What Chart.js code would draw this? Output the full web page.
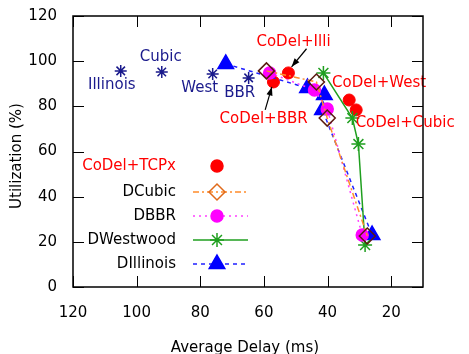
<!DOCTYPE html>
<html>
<head>
<meta charset="utf-8">
<script src="https://cdn.jsdelivr.net/npm/chart.js@4.4.1/dist/chart.umd.min.js"></script>
<style>
html, body { margin: 0; padding: 0; background: #fff; }
</style>
</head>
<body>
<canvas id="delayUtil" width="469" height="354"></canvas>
<script>
// axis ticks
const xTicks = [120, 100, 80, 60, 40, 20];
const yTicks = [0, 20, 40, 60, 80, 100, 120];

// plain TCP variants (no AQM)
const tcpNames = ['Illinois', 'Cubic', 'West', 'BBR'];
const tcpDelay = [105.0, 92.1, 76.1, 64.8];
const tcpUtil = [95.7, 95.2, 94.3, 92.6];

// CoDel + TCP variants
const codelNames = ['CoDel+Illi', 'CoDel+BBR', 'CoDel+West', 'CoDel+Cubic'];
const codelDelay = [52.3, 57.0, 33.2, 31.0];
const codelUtil = [94.8, 90.8, 82.8, 78.4];

// D* series
const dcubicDelay = [59.2, 43.5, 40.1, 27.5];
const dcubicUtil = [95.7, 90.8, 74.8, 22.6];
const dbbrDelay = [58.2, 44.1, 40.1, 29.1];
const dbbrUtil = [94.8, 87.2, 78.8, 23.0];
const dwestDelay = [41.3, 32.2, 30.3, 28.2];
const dwestUtil = [94.8, 74.8, 63.3, 18.6];
const dillDelay = [72.0, 46.3, 41.0, 41.6, 26.0];
const dillUtil = [98.8, 88.1, 85.0, 78.4, 23.0];

// where the text labels sit (data coords)
const tcpLabelPos = [[107.8, 89.5], [92.4, 101.9], [80.2, 88.1], [67.6, 85.9]];
const codelLabelPos = [[50.7, 108.5], [60.1, 74.4], [23.8, 90.3], [15.6, 72.6]];

const NAVY = '#1a1a8c';
const RED = '#ff0000';
const FONT = '15px "DejaVu Sans", sans-serif';

function pts(xs, ys) {
    return xs.map((x, i) => ({x: x, y: ys[i]}));
}

const legendItems = [
    {text: 'CoDel+TCPx', textColor: RED, line: null, dash: [], style: 'circle', r: 6, fill: RED, stroke: RED},
    {text: 'DCubic', textColor: '#000', line: '#ff8c2a', dash: [6, 3, 2, 3], style: 'rectRot', r: 8, fill: 'rgba(0,0,0,0)', stroke: '#e06a1a'},
    {text: 'DBBR', textColor: '#000', line: '#ff40ff', dash: [2, 4], style: 'circle', r: 6, fill: '#ff00ff', stroke: '#ff00ff'},
    {text: 'DWestwood', textColor: '#000', line: '#1f9f1f', dash: [], style: 'star', r: 7, fill: '#1f9f1f', stroke: '#1f9f1f'},
    {text: 'DIllinois', textColor: '#000', line: '#2020ff', dash: [4, 4], style: 'triangle', r: 9, fill: '#0000ff', stroke: '#0000ff'}
];

function arrow(ctx, x1, y1, x2, y2) {
    const a = Math.atan2(y2 - y1, x2 - x1);
    ctx.beginPath();
    ctx.moveTo(x1, y1);
    ctx.lineTo(x2, y2);
    ctx.stroke();
    ctx.beginPath();
    ctx.moveTo(x2, y2);
    ctx.lineTo(x2 - 9 * Math.cos(a - 0.35), y2 - 9 * Math.sin(a - 0.35));
    ctx.lineTo(x2 - 9 * Math.cos(a + 0.35), y2 - 9 * Math.sin(a + 0.35));
    ctx.closePath();
    ctx.fill();
}

const gnuplotLook = {
    id: 'gnuplotLook',
    afterDatasetsDraw(chart) {
        const ctx = chart.ctx;
        const xs = chart.scales.x, ys = chart.scales.y;
        const area = chart.chartArea;
        ctx.save();
        ctx.font = FONT;
        ctx.textAlign = 'center';
        ctx.textBaseline = 'middle';

        ctx.fillStyle = NAVY;
        tcpNames.forEach((n, i) => {
            ctx.fillText(n, xs.getPixelForValue(tcpLabelPos[i][0]), ys.getPixelForValue(tcpLabelPos[i][1]));
        });
        ctx.fillStyle = RED;
        codelNames.forEach((n, i) => {
            ctx.fillText(n, xs.getPixelForValue(codelLabelPos[i][0]), ys.getPixelForValue(codelLabelPos[i][1]));
        });

        // arrows to the CoDel+Illi and CoDel+BBR points
        ctx.strokeStyle = '#000';
        ctx.fillStyle = '#000';
        ctx.lineWidth = 1.2;
        arrow(ctx, xs.getPixelForValue(46.6), ys.getPixelForValue(105.5),
            xs.getPixelForValue(51.3), ys.getPixelForValue(97.5));
        arrow(ctx, xs.getPixelForValue(59.6), ys.getPixelForValue(78.4),
            xs.getPixelForValue(57.5), ys.getPixelForValue(88.6));

        // legend box (inside plot, lower left)
        legendItems.forEach((it, i) => {
            const y = area.top + 150 + (i === 0 ? 0 : 26 + (i - 1) * 24);
            ctx.font = FONT;
            ctx.textAlign = 'right';
            ctx.fillStyle = it.textColor;
            ctx.fillText(it.text, area.left + 103, y);
            if (it.line) {
                ctx.strokeStyle = it.line;
                ctx.lineWidth = 1.5;
                ctx.setLineDash(it.dash);
                ctx.beginPath();
                ctx.moveTo(area.left + 120, y);
                ctx.lineTo(area.left + 175, y);
                ctx.stroke();
                ctx.setLineDash([]);
            }
            ctx.fillStyle = it.fill;
            ctx.strokeStyle = it.stroke;
            ctx.lineWidth = 1.5;
            Chart.helpers.drawPoint(ctx, {pointStyle: it.style, radius: it.r, rotation: 0, borderWidth: 1.5},
                area.left + 144, y);
        });

        // frame with inward ticks on all four sides
        ctx.strokeStyle = '#000';
        ctx.lineWidth = 1.5;
        ctx.strokeRect(area.left, area.top, area.right - area.left, area.bottom - area.top);
        ctx.lineWidth = 1;
        ctx.beginPath();
        xTicks.forEach(v => {
            const p = Math.round(xs.getPixelForValue(v)) + 0.5;
            ctx.moveTo(p, area.bottom); ctx.lineTo(p, area.bottom - 11);
            ctx.moveTo(p, area.top); ctx.lineTo(p, area.top + 11);
        });
        yTicks.forEach(v => {
            const p = Math.round(ys.getPixelForValue(v)) + 0.5;
            ctx.moveTo(area.left, p); ctx.lineTo(area.left + 11, p);
            ctx.moveTo(area.right, p); ctx.lineTo(area.right - 11, p);
        });
        ctx.stroke();

        // axis titles
        ctx.fillStyle = '#000';
        ctx.font = FONT;
        ctx.textAlign = 'center';
        ctx.fillText('Average Delay (ms)', 245, 348);
        ctx.translate(17, 156);
        ctx.rotate(-Math.PI / 2);
        ctx.fillText('Utilization (%)', 0, 0);
        ctx.restore();
    }
};

const ctxD = document.getElementById('delayUtil').getContext('2d');

new Chart(ctxD, {
    type: 'scatter',
    plugins: [gnuplotLook],
    data: {
        datasets: [
            {
                label: 'TCP',
                data: pts(tcpDelay, tcpUtil),
                pointStyle: 'star', pointRadius: 6, pointBorderWidth: 1.5,
                borderColor: NAVY, backgroundColor: NAVY, showLine: false
            },
            {
                label: 'DCubic',
                data: pts(dcubicDelay, dcubicUtil),
                showLine: true, borderColor: '#ff8c2a', borderWidth: 1.5, borderDash: [6, 3, 2, 3],
                pointStyle: 'rectRot', pointRadius: 8, pointBorderWidth: 1.5,
                pointBorderColor: '#5a1a10', pointBackgroundColor: 'rgba(0,0,0,0)'
            },
            {
                label: 'DBBR',
                data: pts(dbbrDelay, dbbrUtil),
                showLine: true, borderColor: '#ff40ff', borderWidth: 1.5, borderDash: [2, 4],
                pointStyle: 'circle', pointRadius: 6,
                pointBorderColor: '#ff00ff', pointBackgroundColor: '#ff00ff'
            },
            {
                label: 'DWestwood',
                data: pts(dwestDelay, dwestUtil),
                showLine: true, borderColor: '#1f9f1f', borderWidth: 1.5,
                pointStyle: 'star', pointRadius: 7, pointBorderWidth: 1.5,
                pointBorderColor: '#1f9f1f', pointBackgroundColor: '#1f9f1f'
            },
            {
                label: 'DIllinois',
                data: pts(dillDelay, dillUtil),
                showLine: true, borderColor: '#2020ff', borderWidth: 1.5, borderDash: [4, 4],
                pointStyle: 'triangle', pointRadius: 9,
                pointBorderColor: '#0000ff', pointBackgroundColor: '#0000ff'
            },
            {
                label: 'CoDel+TCPx',
                data: pts(codelDelay, codelUtil),
                showLine: false, pointStyle: 'circle', pointRadius: 6,
                pointBorderColor: RED, pointBackgroundColor: RED
            }
        ]
    },
    options: {
        responsive: false,
        animation: false,
        layout: {padding: {top: 16, right: 46, left: 0, bottom: 0}},
        plugins: {
            legend: {display: false},
            tooltip: {enabled: false}
        },
        scales: {
            x: {
                type: 'linear',
                reverse: true,
                min: 10,
                max: 120,
                afterBuildTicks: s => { s.ticks = xTicks.map(v => ({value: v})); },
                afterFit: s => { s.height = 67; s.paddingLeft = 0; s.paddingRight = 0; },
                grid: {display: false, drawTicks: false},
                border: {display: false},
                ticks: {color: '#000', font: {family: 'DejaVu Sans', size: 15}, padding: 17, maxRotation: 0}
            },
            y: {
                type: 'linear',
                min: 0,
                max: 120,
                afterBuildTicks: s => { s.ticks = yTicks.map(v => ({value: v})); },
                afterFit: s => { s.width = 73; s.paddingTop = 0; s.paddingBottom = 0; },
                grid: {display: false, drawTicks: false},
                border: {display: false},
                ticks: {color: '#000', font: {family: 'DejaVu Sans', size: 15}, padding: 16}
            }
        }
    }
});
</script>
</body>
</html>
